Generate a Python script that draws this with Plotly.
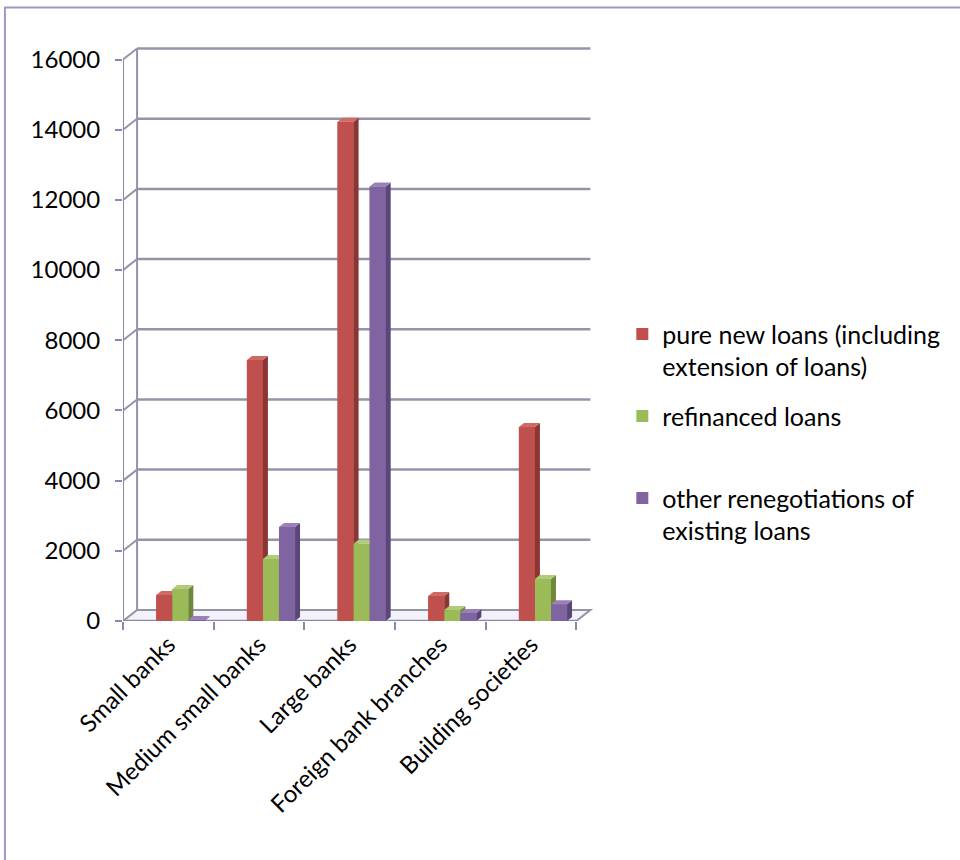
import plotly.graph_objects as go

categories = ["Small banks", "Medium small banks", "Large banks", "Foreign bank branches", "Building societies"]
series_names = ["pure new loans (including<br>extension of loans)", "refinanced loans<br> ", "other renegotiations of<br>existing loans"]
pure_new = [740, 7440, 14230, 710, 5530]
refinanced = [910, 1770, 2200, 310, 1200]
other_reneg = [30, 2680, 12380, 230, 480]
y_ticks = [0, 2000, 4000, 6000, 8000, 10000, 12000, 14000, 16000]

series_values = [pure_new, refinanced, other_reneg]
front_colors = ["#C0504D", "#9BBB59", "#8064A2"]
side_colors = ["#8A3734", "#6F883D", "#5B4679"]
top_colors = ["#CF6A67", "#B0CC7A", "#9A82B9"]

BAR_W = 0.177
OFFSETS = [-0.045, 0.132, 0.309]
DX_BAR, DY_BAR = 0.055, 114   # bar depth
DX_WALL, DY_WALL = 0.155, 314  # wall depth
X0, X1 = -0.5, 4.5

fig = go.Figure()

# legend / base bars
for s in range(3):
    fig.add_trace(go.Bar(
        x=[i + OFFSETS[s] for i in range(len(categories))],
        y=series_values[s], width=BAR_W, name=series_names[s],
        marker=dict(color=front_colors[s], line=dict(width=0)),
        legendgroup=str(s), hoverinfo="skip"))

# 3D faces drawn in painter's order
for i in range(len(categories)):
    for s in range(3):
        v = series_values[s][i]
        c = i + OFFSETS[s]
        xl, xr = c - BAR_W / 2, c + BAR_W / 2
        faces = [
            ([xl, xr, xr, xl, xl], [0, 0, v, v, 0], front_colors[s]),
            ([xr, xr + DX_BAR, xr + DX_BAR, xr, xr], [0, DY_BAR, v + DY_BAR, v, 0], side_colors[s]),
            ([xl, xr, xr + DX_BAR, xl + DX_BAR, xl], [v, v, v + DY_BAR, v + DY_BAR, v], top_colors[s]),
        ]
        for fx, fy, col in faces:
            fig.add_trace(go.Scatter(x=fx, y=fy, fill="toself", fillcolor=col, mode="lines",
                                     line=dict(width=0, color=col), showlegend=False, hoverinfo="skip"))

shapes = []
grid_col = "#9494A8"
axis_col = "#8888B0"
# floor
shapes.append(dict(type="path", xref="x", yref="y", layer="below",
                   path=f"M {X0},0 L {X1},0 L {X1+DX_WALL},{DY_WALL} L {X0+DX_WALL},{DY_WALL} Z",
                   fillcolor="#F2F2F8", line=dict(color=grid_col, width=2)))
# back wall left edge
shapes.append(dict(type="line", xref="x", yref="y", layer="below",
                   x0=X0 + DX_WALL, y0=DY_WALL, x1=X0 + DX_WALL, y1=y_ticks[-1] + DY_WALL,
                   line=dict(color=grid_col, width=2)))
for v in y_ticks[1:]:
    shapes.append(dict(type="line", xref="x", yref="y", layer="below",
                       x0=X0 + DX_WALL, y0=v + DY_WALL, x1=X1 + DX_WALL, y1=v + DY_WALL,
                       line=dict(color=grid_col, width=2.5)))
    shapes.append(dict(type="line", xref="x", yref="y", layer="below",
                       x0=X0, y0=v, x1=X0 + DX_WALL, y1=v + DY_WALL,
                       line=dict(color=grid_col, width=2)))
# front axes
shapes.append(dict(type="line", xref="x", yref="y", layer="above",
                   x0=X0, y0=0, x1=X0, y1=y_ticks[-1], line=dict(color=axis_col, width=2)))
shapes.append(dict(type="line", xref="x", yref="y", layer="below",
                   x0=X0, y0=0, x1=X1, y1=0, line=dict(color=axis_col, width=2.5)))
# outer chart border
shapes.append(dict(type="rect", xref="paper", yref="paper", layer="below",
                   x0=-0.248, y0=-0.45, x1=1.8, y1=1.0596,
                   line=dict(color="#9B9BC6", width=2), fillcolor="rgba(0,0,0,0)"))

fig.update_layout(
    width=960, height=860,
    margin=dict(l=123, r=361, t=42, b=239),
    paper_bgcolor="white", plot_bgcolor="rgba(0,0,0,0)",
    font=dict(family="Lato", size=24, color="#000000"),
    barmode="overlay", showlegend=True,
    shapes=shapes,
    legend=dict(x=1.049, y=0.535, xanchor="left", yanchor="top", valign="top",
                font=dict(size=25), tracegroupgap=14, bgcolor="rgba(0,0,0,0)"),
    xaxis=dict(range=[-0.5, 4.75], tickvals=list(range(len(categories))), ticktext=categories,
               tickangle=-45, ticks="", showgrid=False, zeroline=False, showline=False,
               ticklabelstandoff=4,
               minor=dict(tickvals=[k - 0.5 for k in range(len(categories) + 1)], ticks="outside",
                          ticklen=8, tickcolor=axis_col, tickwidth=2, showgrid=False)),
    yaxis=dict(range=[0, 16500], tickvals=y_ticks, ticktext=[str(t) for t in y_ticks],
               ticks="outside", ticklen=7, ticklabelstandoff=10,
               tickcolor=axis_col, tickwidth=2, showgrid=False, zeroline=False, showline=False),
)

fig.write_html("out.html")
